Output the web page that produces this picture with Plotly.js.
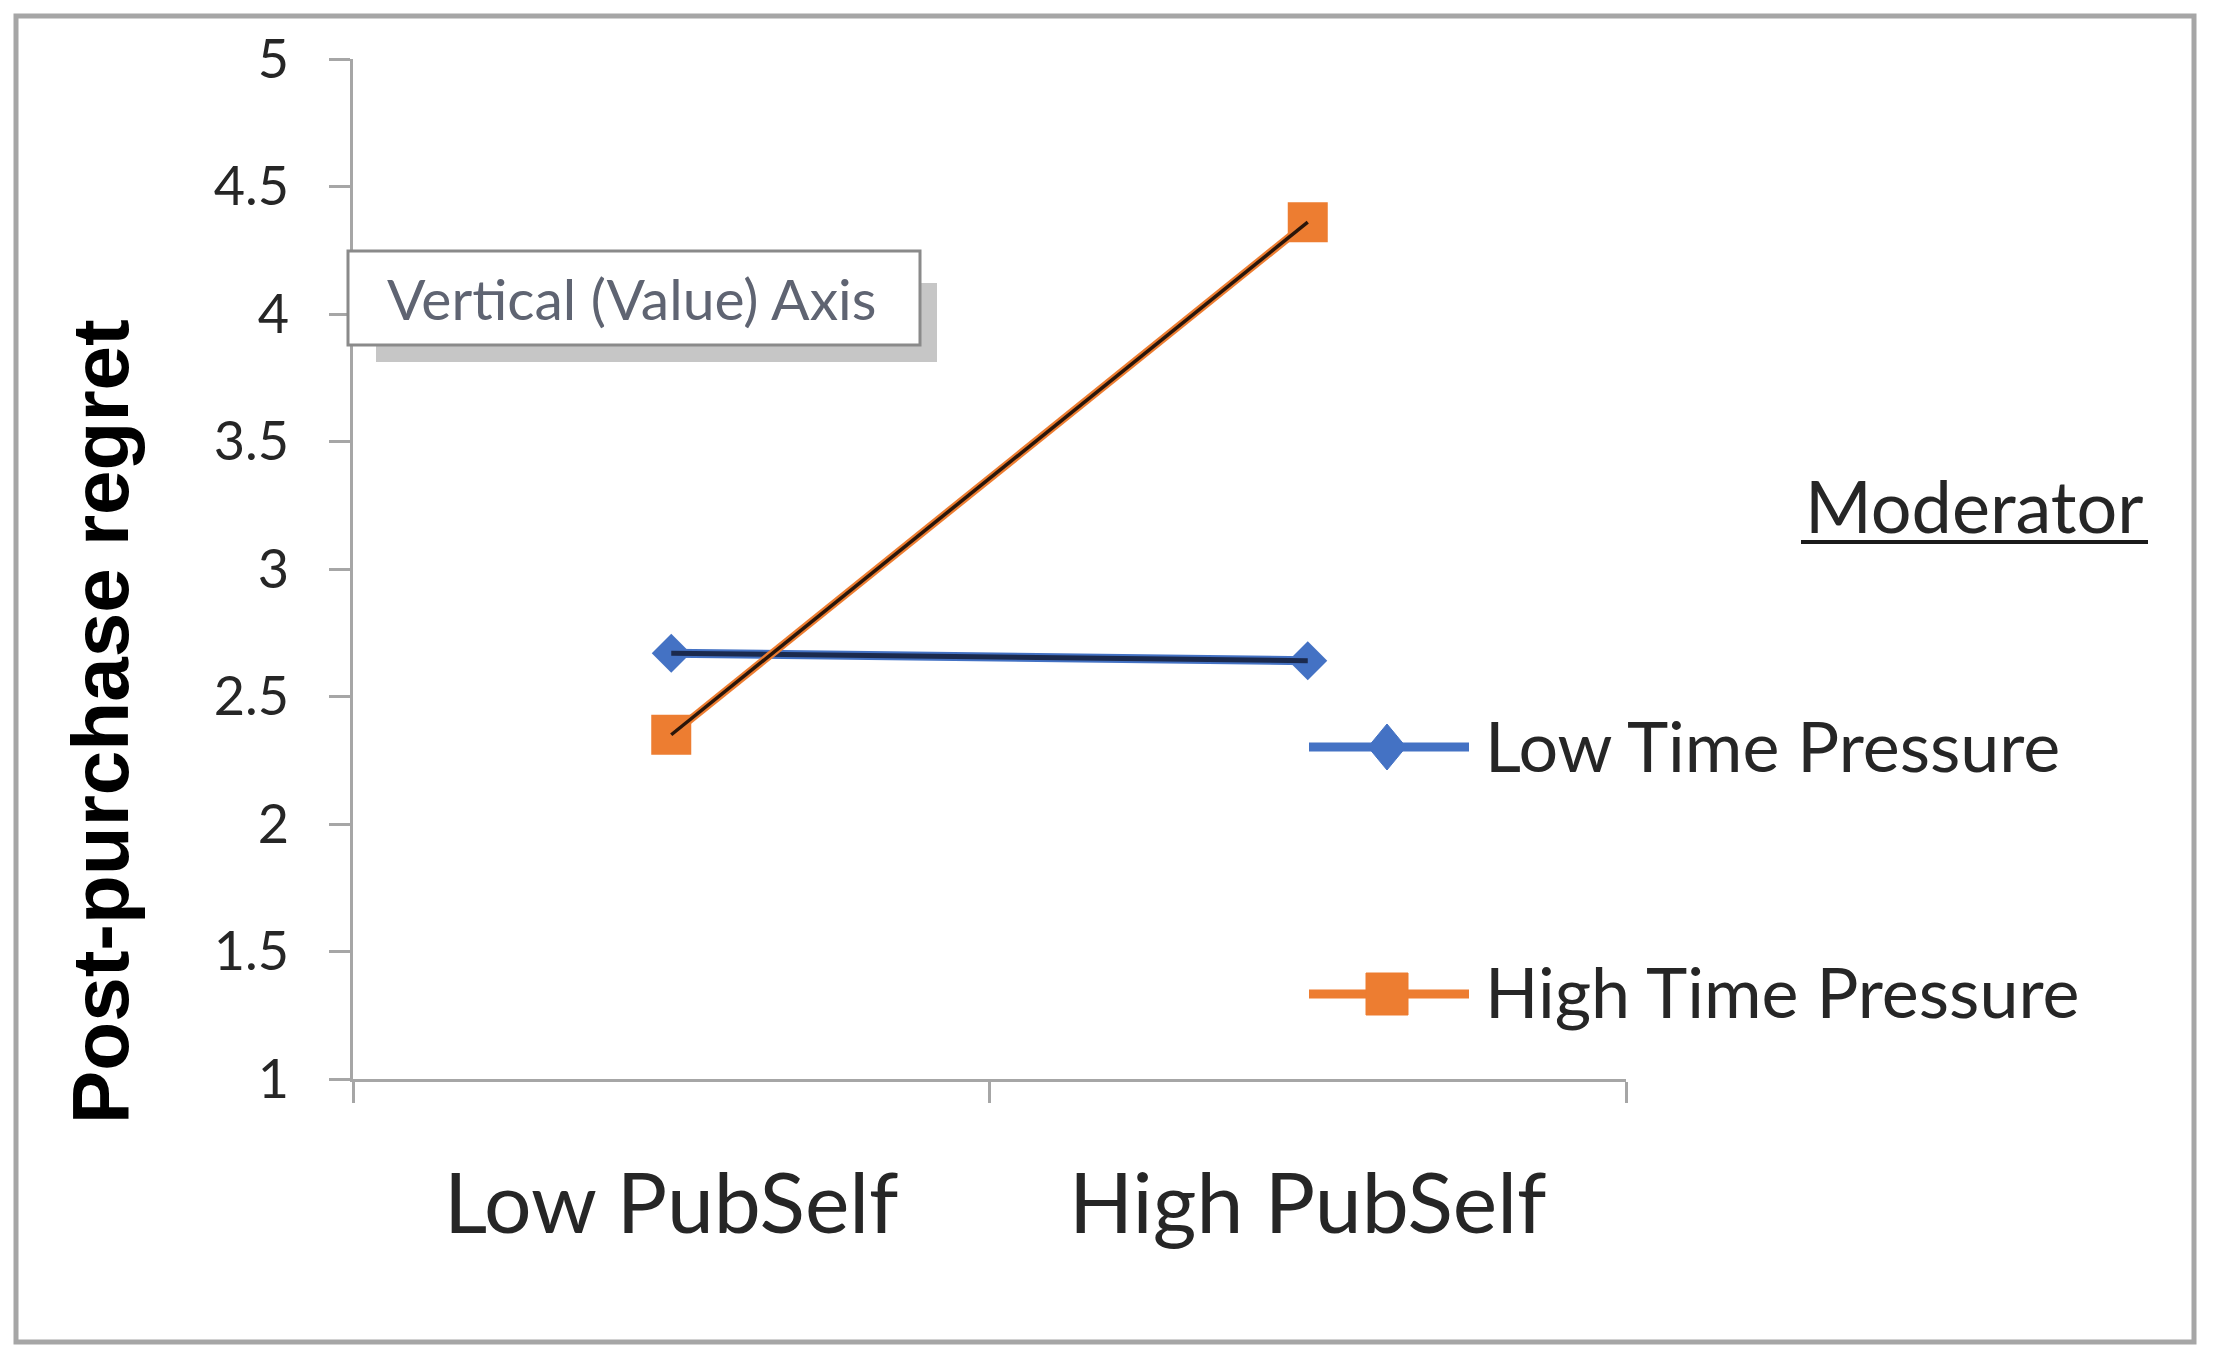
<!DOCTYPE html>
<html>
<head>
<meta charset="utf-8">
<script src="https://cdn.plot.ly/plotly-3.0.1.min.js"></script>
<style>
  html, body { margin: 0; padding: 0; background: #ffffff; }
  #chart { width: 2220px; height: 1361px; }
</style>
</head>
<body>
<div id="chart"></div>
<script>
// ---- data ----
const categories = ['Low PubSelf', 'High PubSelf'];
const seriesNames = ['Low Time Pressure', 'High Time Pressure'];
const lowTimePressure = [2.67, 2.64];
const highTimePressure = [2.35, 4.36];
const yTickValues = [1, 1.5, 2, 2.5, 3, 3.5, 4, 4.5, 5];
const yTickLabels = ['1', '1.5', '2', '2.5', '3', '3.5', '4', '4.5', '5'];
const yAxisTitle = 'Post-purchase regret';
const legendTitle = 'Moderator';
const tooltipText = 'Vertical (Value) Axis';

// ---- layout geometry (pixels) ----
const W = 2220, H = 1361;
const L = 353, R = 1626, T = 59, B = 1079;
const px = x => (x - L) / (R - L);
const py = y => (B - y) / (B - T);

const BLUE = '#4472C4', BLUE_CORE = '#1b2a4e';
const ORANGE = '#ED7D31', ORANGE_CORE = '#2a160a';
const TEXT = '#262626';
const AXIS = '#a6a6a6';
const CAL = 'Lato, "Open Sans", sans-serif';

const traces = [
  { x: categories, y: lowTimePressure, name: seriesNames[0], type: 'scatter', mode: 'lines+markers',
    line: { color: BLUE, width: 9 }, marker: { symbol: 'diamond', size: 30, color: BLUE },
    hoverinfo: 'skip', showlegend: false },
  { x: categories, y: lowTimePressure, name: seriesNames[0], type: 'scatter', mode: 'lines',
    line: { color: BLUE_CORE, width: 5 }, hoverinfo: 'skip', showlegend: false },
  { x: categories, y: highTimePressure, name: seriesNames[1], type: 'scatter', mode: 'lines+markers',
    line: { color: ORANGE, width: 8 }, marker: { symbol: 'square', size: 40, color: ORANGE },
    hoverinfo: 'skip', showlegend: false },
  { x: categories, y: highTimePressure, name: seriesNames[1], type: 'scatter', mode: 'lines',
    line: { color: ORANGE_CORE, width: 3.5 }, hoverinfo: 'skip', showlegend: false }
];

// legend key geometry
const legLineX0 = 1309, legLineX1 = 1469, legMarkX = 1387;
const legY1 = 747, legY2 = 994;
const dHalfW = 19, dHalfH = 23, sqHalf = 21;

function diamondPath(cx, cy) {
  return 'M ' + px(cx - dHalfW) + ' ' + py(cy) +
         ' L ' + px(cx) + ' ' + py(cy - dHalfH) +
         ' L ' + px(cx + dHalfW) + ' ' + py(cy) +
         ' L ' + px(cx) + ' ' + py(cy + dHalfH) + ' Z';
}

const shapes = [
  // outer frame
  { type: 'rect', xref: 'paper', yref: 'paper', x0: px(16), x1: px(2194), y0: py(16), y1: py(1342),
    line: { color: AXIS, width: 5 }, fillcolor: 'rgba(0,0,0,0)', layer: 'below' },
  // legend keys
  { type: 'line', xref: 'paper', yref: 'paper', x0: px(legLineX0), x1: px(legLineX1), y0: py(legY1), y1: py(legY1),
    line: { color: BLUE, width: 9 } },
  { type: 'path', xref: 'paper', yref: 'paper', path: diamondPath(legMarkX, legY1),
    fillcolor: BLUE, line: { color: BLUE, width: 1 } },
  { type: 'line', xref: 'paper', yref: 'paper', x0: px(legLineX0), x1: px(legLineX1), y0: py(legY2), y1: py(legY2),
    line: { color: ORANGE, width: 9 } },
  { type: 'rect', xref: 'paper', yref: 'paper', x0: px(legMarkX - sqHalf), x1: px(legMarkX + sqHalf),
    y0: py(legY2 - sqHalf), y1: py(legY2 + sqHalf), fillcolor: ORANGE, line: { color: ORANGE, width: 1 } },
  // legend title underline
  { type: 'line', xref: 'paper', yref: 'paper', x0: px(1801), x1: px(2148), y0: py(542), y1: py(542),
    line: { color: '#1a1a1a', width: 4 } },
  // tooltip shadow + box
  { type: 'rect', xref: 'paper', yref: 'paper', x0: px(376), x1: px(937), y0: py(283), y1: py(362),
    fillcolor: 'rgba(120,120,120,0.42)', line: { width: 0 } },
  { type: 'rect', xref: 'paper', yref: 'paper', x0: px(348), x1: px(920), y0: py(251), y1: py(345),
    fillcolor: '#ffffff', line: { color: '#8a8a8a', width: 3 } }
];

const annotations = [
  { xref: 'paper', yref: 'paper', x: px(1483), y: py(745), xanchor: 'left', yanchor: 'middle',
    text: seriesNames[0], showarrow: false, font: { family: CAL, size: 70, color: TEXT } },
  { xref: 'paper', yref: 'paper', x: px(1483), y: py(991), xanchor: 'left', yanchor: 'middle',
    text: seriesNames[1], showarrow: false, font: { family: CAL, size: 70, color: TEXT } },
  { xref: 'paper', yref: 'paper', x: px(1803), y: py(505), xanchor: 'left', yanchor: 'middle',
    text: legendTitle, showarrow: false, font: { family: CAL, size: 72, color: TEXT } },
  { xref: 'paper', yref: 'paper', x: px(631), y: py(298), xanchor: 'center', yanchor: 'middle',
    text: tooltipText, showarrow: false, font: { family: CAL, size: 57, color: '#5f6472' } },
  // y-axis title (placed as in the reference, below the plot's vertical centre)
  { xref: 'paper', yref: 'paper', x: px(100), y: py(722), xanchor: 'center', yanchor: 'middle',
    text: yAxisTitle, textangle: -90, showarrow: false,
    font: { family: '"Liberation Sans", Arial, sans-serif', size: 80, color: '#000000', weight: 'bold' } }
];

const layout = {
  width: W, height: H,
  margin: { l: L, r: W - R, t: T, b: H - B, pad: 0 },
  paper_bgcolor: '#ffffff', plot_bgcolor: '#ffffff',
  showlegend: false,
  xaxis: {
    type: 'category', range: [-0.5, 1.5],
    showline: true, linecolor: AXIS, linewidth: 3,
    ticks: 'outside', tickson: 'boundaries', ticklen: 21, tickwidth: 3, tickcolor: AXIS,
    tickfont: { family: CAL, size: 84, color: TEXT }, ticklabelstandoff: 50,
    showgrid: false, zeroline: false, fixedrange: true
  },
  yaxis: {
    range: [1, 5], tickmode: 'array', tickvals: yTickValues, ticktext: yTickLabels,
    showline: true, linecolor: AXIS, linewidth: 3,
    ticks: 'outside', ticklen: 21, tickwidth: 3, tickcolor: AXIS,
    tickfont: { family: CAL, size: 54, color: TEXT }, ticklabelstandoff: 29,
    showgrid: false, zeroline: false, fixedrange: true
  },
  shapes: shapes,
  annotations: annotations
};

Plotly.newPlot('chart', traces, layout, { staticPlot: true, displayModeBar: false });
</script>
</body>
</html>
